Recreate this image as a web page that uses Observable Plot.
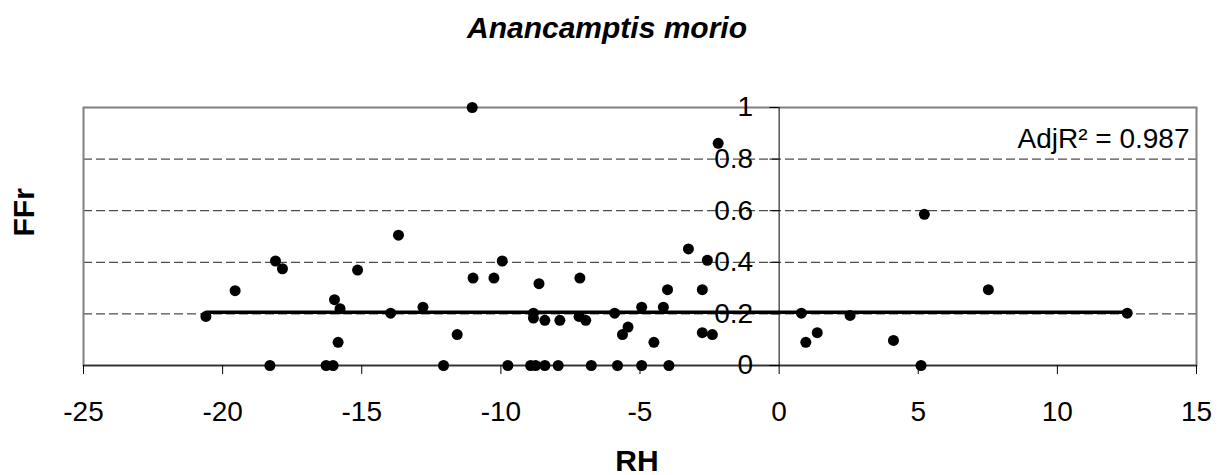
<!DOCTYPE html>
<html>
<head>
<meta charset="utf-8">
<script src="https://cdn.jsdelivr.net/npm/d3@7"></script>
<script src="https://cdn.jsdelivr.net/npm/@observablehq/plot@0.6"></script>
<style>
  html, body { margin: 0; padding: 0; background: #fff; }
  #chart svg { display: block; font-family: "Liberation Sans", Arial, sans-serif; }
</style>
</head>
<body>
<div id="chart"></div>
<script>
const titleText = "Anancamptis morio";
const xLabel = "RH";
const yLabel = "FFr";
const annotation = "AdjR² = 0.987";

const rhValues = [
  -20.6, -19.55, -18.1, -17.85, -18.3, -15.98, -15.78, -15.85, -16.28, -16.03,
  -15.15, -13.68, -13.96, -12.8, -11.57, -12.06, -11.03, -11.0, -10.25, -9.95,
  -9.75, -8.83, -8.83, -8.63, -8.42, -7.88, -8.93, -8.75, -8.42, -7.94,
  -7.16, -7.19, -6.95, -6.75, -5.91, -5.81, -5.63, -5.43, -4.94, -4.94,
  -4.5, -4.16, -4.01, -3.96, -3.26, -2.76, -2.76, -2.4, -2.58, -2.19,
  0.8, 0.96, 1.37, 2.55, 4.11, 5.1, 5.22, 7.52, 12.51
];
const ffrValues = [
  0.19, 0.29, 0.405, 0.375, 0, 0.255, 0.22, 0.09, 0, 0,
  0.37, 0.505, 0.203, 0.226, 0.12, 0, 1.0, 0.339, 0.339, 0.405,
  0, 0.203, 0.184, 0.317, 0.175, 0.175, 0, 0, 0, 0,
  0.339, 0.19, 0.175, 0, 0.203, 0, 0.12, 0.149, 0.226, 0,
  0.09, 0.226, 0.294, 0, 0.452, 0.294, 0.127, 0.12, 0.408, 0.861,
  0.203, 0.09, 0.127, 0.194, 0.097, 0, 0.586, 0.294, 0.203
];

const fitX = [-20.6, 12.51];
const fitY = [0.206, 0.206];

const xTicks = [-25, -20, -15, -10, -5, 0, 5, 10, 15];
const yTicks = [0, 0.2, 0.4, 0.6, 0.8, 1];
const yTickLabels = ["0", "0.2", "0.4", "0.6", "0.8", "1"];
const gridY = [0.2, 0.4, 0.6, 0.8];

const points = rhValues.map((x, i) => ({x, y: ffrValues[i]}));
const fit = fitX.map((x, i) => ({x, y: fitY[i]}));
const yTickData = yTicks.map((v, i) => ({v, label: yTickLabels[i]}));

const W = 1225, H = 475;
const chart = Plot.plot({
  width: W,
  height: H,
  marginTop: 107,
  marginBottom: 110,
  marginLeft: 83,
  marginRight: 29,
  style: {fontFamily: '"Liberation Sans", Arial, sans-serif', background: "#fff"},
  x: {type: "linear", domain: [-25, 15], axis: null},
  y: {type: "linear", domain: [0, 1], axis: null},
  marks: [
    // dashed gridlines
    Plot.ruleY(gridY, {stroke: "#222", strokeWidth: 1, strokeDasharray: "9,4"}),
    // plot area border
    Plot.frame({stroke: "#808080", strokeWidth: 2}),
    // x axis line
    Plot.ruleY([0], {stroke: "#333", strokeWidth: 1.5}),
    // y axis line at x = 0
    Plot.ruleX([0], {y1: 0, y2: 1, stroke: "#000", strokeWidth: 1}),
    // x ticks
    Plot.ruleX(xTicks, {x: d => d, y1: 0, y2: -0.035, stroke: "#000", strokeWidth: 1}),
    Plot.text(xTicks, {x: d => d, frameAnchor: "bottom", text: d => String(d), fontSize: 28, dy: 55, lineAnchor: "bottom", fill: "#000"}),
    // y ticks at x = 0
    Plot.ruleY(yTicks, {y: d => d, x1: -0.33, x2: 0, stroke: "#000", strokeWidth: 1}),
    Plot.text(yTickData, {x: 0, y: "v", text: "label", textAnchor: "end", dx: -26, fontSize: 28, fill: "#000", lineAnchor: "middle"}),
    // fit line
    Plot.line(fit, {x: "x", y: "y", stroke: "#000", strokeWidth: 3.5}),
    // points
    Plot.dot(points, {x: "x", y: "y", r: 5.5, fill: "#000", stroke: "none"}),
    // annotation
    Plot.text([annotation], {frameAnchor: "top-right", dx: -7, dy: 40, lineAnchor: "bottom", textAnchor: "end", fontSize: 28, fill: "#000"}),
    // title
    Plot.text([titleText], {frameAnchor: "top", dx: -33, dy: -70, lineAnchor: "bottom", fontSize: 30, fontWeight: "bold", fontStyle: "italic", fill: "#000"}),
    // axis labels
    Plot.text([xLabel], {frameAnchor: "bottom", dx: -3, dy: 105, lineAnchor: "bottom", fontSize: 30, fontWeight: "bold", fill: "#000"}),
    Plot.text([yLabel], {frameAnchor: "left", dx: -59, rotate: -90, lineAnchor: "middle", fontSize: 30, fontWeight: "bold", fill: "#000"})
  ]
});
document.getElementById("chart").appendChild(chart);
</script>
</body>
</html>
